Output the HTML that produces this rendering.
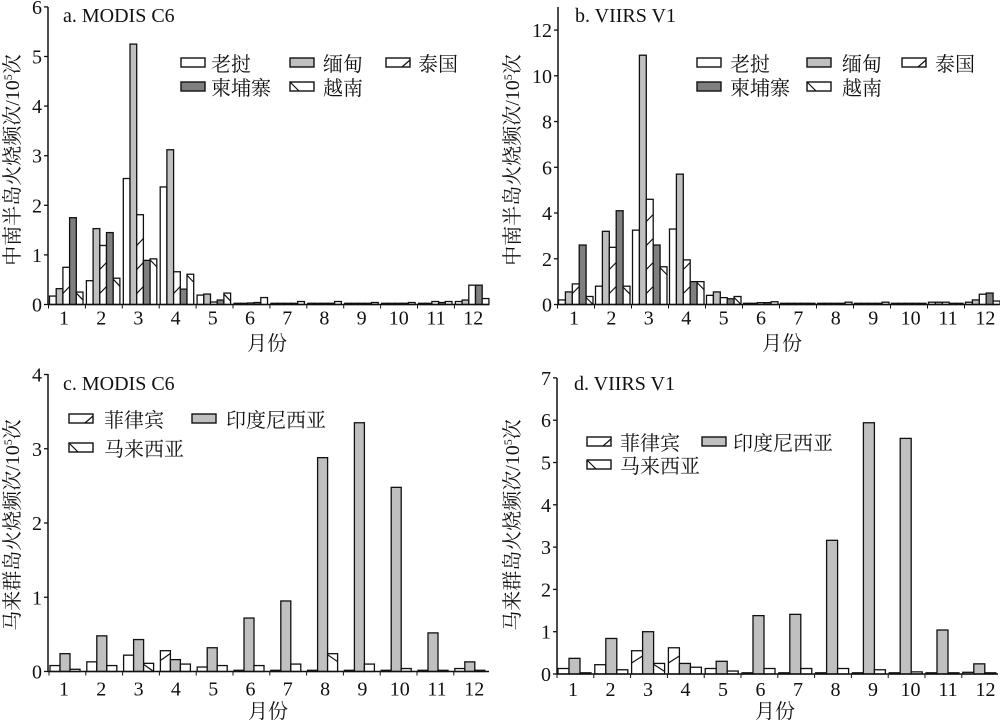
<!DOCTYPE html>
<html><head><meta charset="utf-8"><style>
html,body{margin:0;padding:0;background:#fff;}
svg text{font-family:"Liberation Serif","Noto Serif CJK SC",serif;fill:#111;}
.cj{font-family:"Liberation Serif","Noto Serif CJK SC",serif;}
</style></head><body>
<svg id="s" width="1000" height="722" viewBox="0 0 1000 722" xmlns="http://www.w3.org/2000/svg">
<text x="63" y="22" font-size="20">a. MODIS C6</text>
<text x="575" y="22" font-size="20">b. VIIRS V1</text>
<text x="63" y="390" font-size="20">c.  MODIS C6</text>
<text x="574" y="390" font-size="20">d. VIIRS V1</text>
<text x="267" y="350" font-size="20" text-anchor="middle" class="cj">月份</text>
<text x="782" y="350" font-size="20" text-anchor="middle" class="cj">月份</text>
<text x="268" y="718" font-size="20" text-anchor="middle" class="cj">月份</text>
<text x="775" y="718" font-size="20" text-anchor="middle" class="cj">月份</text>
<text transform="translate(19,160) rotate(-90)" font-size="20" text-anchor="middle" class="cj">中南半岛火烧频次/10<tspan font-size="12" dy="-7">5</tspan><tspan dy="7">次</tspan></text>
<text transform="translate(519,160) rotate(-90)" font-size="20" text-anchor="middle" class="cj">中南半岛火烧频次/10<tspan font-size="12" dy="-7">5</tspan><tspan dy="7">次</tspan></text>
<text transform="translate(19,525) rotate(-90)" font-size="20" text-anchor="middle" class="cj">马来群岛火烧频次/10<tspan font-size="12" dy="-7">5</tspan><tspan dy="7">次</tspan></text>
<text transform="translate(519,525) rotate(-90)" font-size="20" text-anchor="middle" class="cj">马来群岛火烧频次/10<tspan font-size="12" dy="-7">5</tspan><tspan dy="7">次</tspan></text>
<g id="g"></g>
</svg>
<script>
var NS="http://www.w3.org/2000/svg",G=document.getElementById("g");
function el(t,a,txt){var e=document.createElementNS(NS,t);for(var k in a)e.setAttribute(k,a[k]);if(txt!=null)e.textContent=txt;G.appendChild(e);return e;}
var ST={w:"#fff",l:"#c0c0c0",d:"#7f7f7f",f:"#fff",b:"#fff"};
function bar(x,w,yb,h,t){
  if(h<1.2)h=1.2;
  el("rect",{x:x,y:yb-h,width:w,height:h,fill:ST[t],stroke:"#111","stroke-width":1.3});
  if(t=="f"){for(var k=14;k+6<h;k+=24)el("line",{x1:x,y1:yb-k+3,x2:x+w,y2:yb-k-4,stroke:"#111","stroke-width":1.2});}
  if(t=="b"&&h>8){el("line",{x1:x,y1:yb-h+1,x2:x+w,y2:yb-h+8,stroke:"#111","stroke-width":1.2});}
}
function legbox(x,y,t){
  el("rect",{x:x,y:y,width:24,height:9,fill:ST[t],stroke:"#111","stroke-width":1.4});
  if(t=="f")el("line",{x1:x+16,y1:y+9,x2:x+24,y2:y+2,stroke:"#111","stroke-width":1.2});
  if(t=="b")el("line",{x1:x,y1:y,x2:x+9,y2:y+9,stroke:"#111","stroke-width":1.2});
}
function panel(P){
  for(var m=0;m<12;m++){
    var gx=P.gs+m*P.gsp;
    for(var i=0;i<P.types.length;i++){
      bar(gx+i*P.bw,P.bw,P.y0,P.data[m][i]*P.pu,P.types[i]);
    }
  }
  el("line",{x1:P.ax,y1:P.y0,x2:P.xe,y2:P.y0,stroke:"#111","stroke-width":1.5});
  el("line",{x1:P.ax,y1:P.y0,x2:P.ax,y2:P.ytop,stroke:"#111","stroke-width":1.5});
  P.yt.forEach(function(v){var y=P.y0-v*P.pu;
    el("line",{x1:P.ax-4,y1:y,x2:P.ax,y2:y,stroke:"#111","stroke-width":1.3});
    el("text",{x:P.ax-6,y:y+7,"font-size":20,"text-anchor":"end"},String(v));});
  for(var m=0;m<12;m++){var cx=P.m1+m*P.msp;
    el("text",{x:cx,y:P.y0+P.lo,"font-size":20,"text-anchor":"middle"},String(m+1));
    el("line",{x1:P.gs+m*P.gsp-1,y1:P.y0,x2:P.gs+m*P.gsp-1,y2:P.y0+4,stroke:"#111","stroke-width":1});}
  P.leg.forEach(function(L){legbox(L[0],L[1],L[2]);el("text",{x:L[3],y:L[1]+13,"font-size":20,"class":"cj"},L[4]);});
}
var A=[[0.17,0.32,0.75,1.75,0.25],[0.48,1.53,1.19,1.45,0.53],[2.54,5.25,1.81,0.89,0.92],[2.37,3.12,0.66,0.31,0.61],[0.19,0.21,0.05,0.09,0.23],[0.01,0.01,0.03,0.04,0.14],[0.01,0.01,0.02,0.01,0.06],[0.01,0.01,0.01,0.01,0.06],[0.01,0.01,0.01,0.01,0.04],[0.01,0.01,0.01,0.01,0.04],[0.02,0.02,0.06,0.04,0.06],[0.06,0.09,0.39,0.39,0.12]];
var B=[[0.2,0.55,0.9,2.6,0.35],[0.8,3.2,2.5,4.1,0.8],[3.25,10.9,4.6,2.6,1.65],[3.3,5.7,1.95,1.0,1.0],[0.4,0.55,0.3,0.25,0.35],[0.02,0.04,0.08,0.08,0.12],[0.02,0.02,0.05,0.05,0.05],[0.01,0.02,0.02,0.02,0.1],[0.01,0.01,0.02,0.02,0.1],[0.01,0.01,0.02,0.02,0.05],[0.1,0.1,0.1,0.05,0.05],[0.1,0.2,0.45,0.5,0.15]];
var C=[[0.08,0.24,0.03],[0.13,0.48,0.08],[0.22,0.43,0.11],[0.28,0.16,0.1],[0.06,0.32,0.08],[0.01,0.72,0.08],[0.01,0.95,0.1],[0.01,2.88,0.24],[0.01,3.35,0.1],[0.01,2.48,0.04],[0.01,0.52,0.01],[0.04,0.13,0.01]];
var D=[[0.13,0.37,0.02],[0.22,0.84,0.1],[0.55,1.0,0.25],[0.62,0.25,0.16],[0.13,0.3,0.07],[0.01,1.38,0.13],[0.01,1.41,0.13],[0.01,3.16,0.13],[0.01,5.94,0.1],[0.01,5.57,0.05],[0.01,1.04,0.01],[0.04,0.24,0.01]];
var T5=["w","l","f","d","b"],T3=["f","l","b"];
panel({data:A,types:T5,ax:48,xe:489,y0:304.5,ytop:7,pu:49.6,yt:[0,1,2,3,4,5,6],gs:49.5,gsp:36.9,bw:6.7,m1:64,msp:37.2,lo:20,
 leg:[[181,58,"w",211,"老挝"],[290,58,"l",323,"缅甸"],[386,58,"f",418,"泰国"],[181,82,"d",211,"柬埔寨"],[290,82,"b",323,"越南"]]});
panel({data:B,types:T5,ax:558,xe:999,y0:304.5,ytop:7,pu:22.87,yt:[0,2,4,6,8,10,12],gs:558.5,gsp:37.0,bw:6.9,m1:574,msp:37.4,lo:20,
 leg:[[697,58,"w",730,"老挝"],[807,58,"l",842,"缅甸"],[902,58,"f",935,"泰国"],[697,82,"d",730,"柬埔寨"],[807,82,"b",842,"越南"]]});
panel({data:C,types:T3,ax:48,xe:489,y0:671.5,ytop:374,pu:74.25,yt:[0,1,2,3,4],gs:50,gsp:36.8,bw:10,m1:64,msp:37.3,lo:24,
 leg:[[69,414,"f",104,"菲律宾"],[192,414,"l",226,"印度尼西亚"],[69,443,"b",104,"马来西亚"]]});
panel({data:D,types:T3,ax:557,xe:998,y0:674,ytop:378,pu:42.3,yt:[0,1,2,3,4,5,6,7],gs:558,gsp:36.8,bw:11,m1:573,msp:37.5,lo:22,
 leg:[[587,437,"f",620,"菲律宾"],[702,437,"l",733,"印度尼西亚"],[587,460,"b",620,"马来西亚"]]});
</script>
</body></html>
